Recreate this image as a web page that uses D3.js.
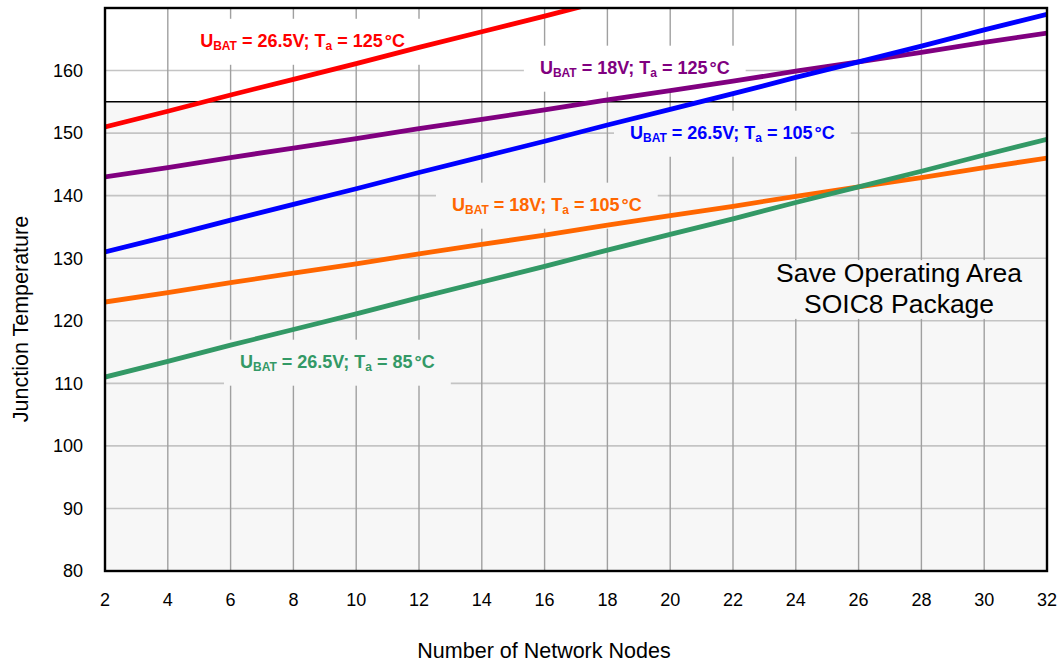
<!DOCTYPE html>
<html lang="en">
<head>
    <meta charset="UTF-8">
    <title>Junction Temperature vs Network Nodes</title>
    <script src="https://d3js.org/d3.v7.min.js"></script>
    <style>
        body {
            margin: 0;
            background: #fff;
            font-family: "Liberation Sans", Arial, sans-serif;
        }
        .tick-label {
            font-size: 18px;
            fill: #000;
        }
        .axis-title {
            font-size: 21.5px;
            fill: #000;
        }
        .curve-label {
            font-size: 18px;
            font-weight: bold;
        }
    </style>
</head>
<body>
<div class="chart"></div>
<script>
    // Nodes on the x axis
    const nodes = [2, 4, 6, 8, 10, 12, 14, 16, 18, 20, 22, 24, 26, 28, 30, 32];

    // Junction temperature per curve
    const tj_265_125 = [151, 153.5, 156.1, 158.6, 161.1, 163.7, 166.2, 168.7, 171.3];
    const tj_18_125  = [143, 144.5, 146.1, 147.6, 149.1, 150.7, 152.2, 153.7, 155.3, 156.8, 158.3, 159.9, 161.4, 162.9, 164.5, 166];
    const tj_265_105 = [131, 133.5, 136.1, 138.6, 141.1, 143.7, 146.2, 148.7, 151.3, 153.8, 156.3, 158.9, 161.4, 163.9, 166.5, 169];
    const tj_18_105  = [123, 124.5, 126.1, 127.6, 129.1, 130.7, 132.2, 133.7, 135.3, 136.8, 138.3, 139.9, 141.4, 142.9, 144.5, 146];
    const tj_265_85  = [111, 113.5, 116.1, 118.6, 121.1, 123.7, 126.2, 128.7, 131.3, 133.8, 136.3, 138.9, 141.4, 143.9, 146.5, 149];

    const xTicks = [2, 4, 6, 8, 10, 12, 14, 16, 18, 20, 22, 24, 26, 28, 30, 32];
    const yTicks = [80, 90, 100, 110, 120, 130, 140, 150, 160];
    const safeLimit = 155;

    // curve labels: [U_BAT, T_a]
    const labelVolt = ["26.5V", "18V", "26.5V", "18V", "26.5V"];
    const labelTemp = ["125", "125", "105", "105", "85"];

    const margin = { top: 8, right: 14, bottom: 95, left: 105 };
    const width = 1061 - margin.left - margin.right;
    const height = 666 - margin.top - margin.bottom;

    const svg = d3.select(".chart")
        .append("svg")
        .attr("width", 1061)
        .attr("height", 666)
        .append("g")
        .attr("transform", `translate(${margin.left},${margin.top})`);

    const x = d3.scaleLinear().domain([2, 32]).range([0, width]);
    const y = d3.scaleLinear().domain([80, 170]).range([height, 0]);

    // background: white above the limit, light grey (safe area) below
    svg.append("rect")
        .attr("x", 0).attr("y", y(safeLimit))
        .attr("width", width).attr("height", height - y(safeLimit))
        .attr("fill", "#f7f7f7");

    // grid
    svg.append("g")
        .selectAll("line")
        .data(yTicks.slice(1))
        .join("line")
        .attr("x1", 0).attr("x2", width)
        .attr("y1", d => y(d)).attr("y2", d => y(d))
        .attr("stroke", "#c4c4c4")
        .attr("stroke-width", 1.6);

    svg.append("g")
        .selectAll("line")
        .data(xTicks.slice(1, -1))
        .join("line")
        .attr("x1", d => x(d)).attr("x2", d => x(d))
        .attr("y1", 0).attr("y2", height)
        .attr("stroke", "#a0a0a0")
        .attr("stroke-width", 1.4);

    // curves
    const series = [
        { values: tj_265_125, color: "#ff0000" },
        { values: tj_18_125,  color: "#800080" },
        { values: tj_265_105, color: "#0000ff" },
        { values: tj_18_105,  color: "#ff6600" },
        { values: tj_265_85,  color: "#339966" }
    ];

    // label anchors (node, temperature) for the text start / baseline
    const labelAt = [[5.03, 163.8], [15.85, 159.5], [18.72, 149.1], [13.05, 137.6], [6.3, 112.5]];

    const labelLayer = svg.append("g");

    series.forEach((s, i) => {
        const g = labelLayer.append("g");
        const t = g.append("text")
            .attr("class", "curve-label")
            .attr("x", x(labelAt[i][0]))
            .attr("y", y(labelAt[i][1]))
            .attr("fill", s.color);
        t.append("tspan").text("U");
        t.append("tspan").attr("font-size", "12px").attr("dy", 3).text("BAT");
        t.append("tspan").attr("dy", -3).text(" = " + labelVolt[i] + "; T");
        t.append("tspan").attr("font-size", "12px").attr("dy", 3).text("a");
        t.append("tspan").attr("dy", -3).text(" = " + labelTemp[i]);
        t.append("tspan").attr("dx", 2).text("\u00b0C");
        const bb = t.node().getBBox();
        const bg = y(labelAt[i][1]) < y(safeLimit) ? "#ffffff" : "#f7f7f7";
        g.insert("rect", "text")
            .attr("x", bb.x - 16).attr("y", bb.y - 12)
            .attr("width", bb.width + 32).attr("height", bb.height + 24)
            .attr("fill", bg);
    });

    // Save operating area note
    const noteX = x(27.29);
    svg.append("rect")
        .attr("x", noteX - 140).attr("y", y(129.7))
        .attr("width", 280).attr("height", y(120.3) - y(129.7))
        .attr("fill", "#f7f7f7");
    const note = svg.append("text")
        .attr("text-anchor", "middle")
        .attr("font-size", "26.5px")
        .attr("fill", "#000");
    note.append("tspan").attr("x", noteX).attr("y", y(126.2)).text("Save Operating Area");
    note.append("tspan").attr("x", noteX).attr("y", y(121.2)).text("SOIC8 Package");

    // limit line
    svg.append("line")
        .attr("x1", 0).attr("x2", width)
        .attr("y1", y(safeLimit)).attr("y2", y(safeLimit))
        .attr("stroke", "#000")
        .attr("stroke-width", 1.5);

    svg.append("clipPath").attr("id", "plot-clip")
        .append("rect").attr("width", width).attr("height", height);

    const line = d3.line()
        .x((d, i) => x(nodes[i]))
        .y(d => y(d));

    svg.append("g")
        .attr("clip-path", "url(#plot-clip)")
        .selectAll("path")
        .data(series)
        .join("path")
        .attr("fill", "none")
        .attr("stroke", d => d.color)
        .attr("stroke-width", 4.8)
        .attr("d", d => line(d.values));

    // frame
    svg.append("rect")
        .attr("width", width).attr("height", height)
        .attr("fill", "none")
        .attr("stroke", "#000")
        .attr("stroke-width", 2.4);

    // tick labels
    svg.append("g")
        .selectAll("text")
        .data(yTicks)
        .join("text")
        .attr("class", "tick-label")
        .attr("x", -22)
        .attr("y", d => y(d))
        .attr("dy", "0.35em")
        .attr("text-anchor", "end")
        .text(d => d);

    svg.append("g")
        .selectAll("text")
        .data(xTicks)
        .join("text")
        .attr("class", "tick-label")
        .attr("x", d => x(d))
        .attr("y", height + 35)
        .attr("text-anchor", "middle")
        .text(d => d);

    // axis titles
    svg.append("text")
        .attr("class", "axis-title")
        .attr("text-anchor", "middle")
        .attr("x", 544 - margin.left)
        .attr("y", height + 87)
        .text("Number of Network Nodes");

    svg.append("text")
        .attr("class", "axis-title")
        .attr("text-anchor", "middle")
        .attr("transform", "rotate(-90)")
        .attr("x", -(319 - margin.top))
        .attr("y", -margin.left + 28)
        .text("Junction Temperature");
</script>
</body>
</html>
